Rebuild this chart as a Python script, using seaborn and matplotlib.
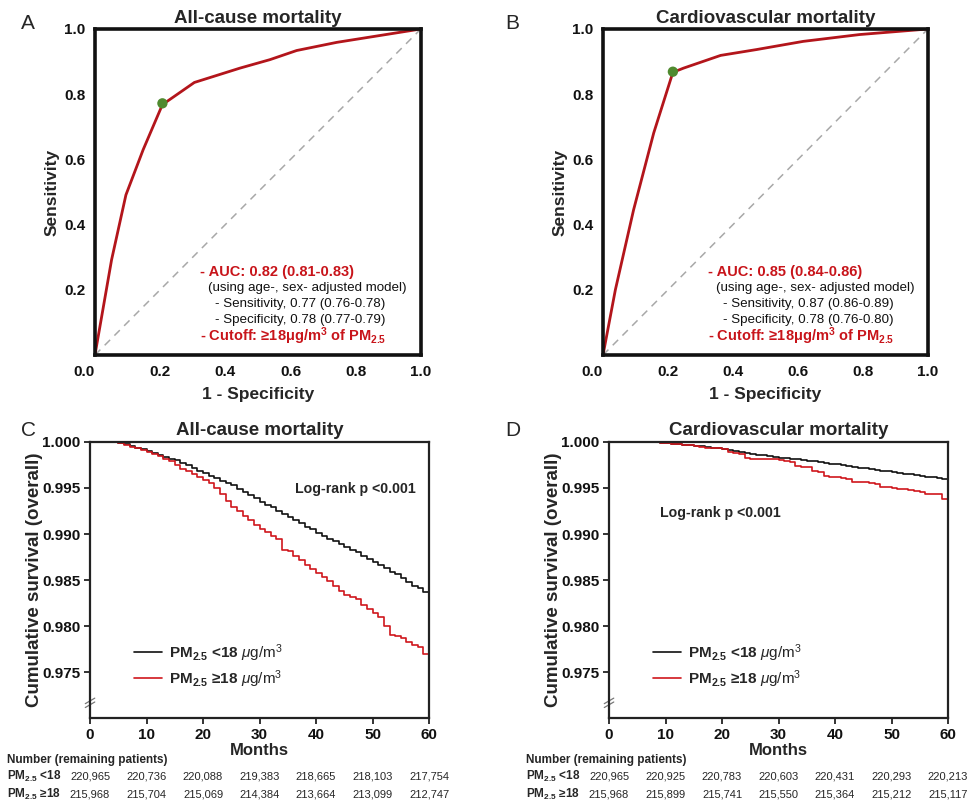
"""
PM2.5 cutoff: ROC curves (A, B) and Kaplan-Meier survival (C, D)
"""
import numpy as np
import pandas as pd
import matplotlib
matplotlib.use("Agg")
import matplotlib.pyplot as plt
import matplotlib.transforms as mtransforms
import seaborn as sns

sns.set_theme(style="white")
plt.rcParams["font.family"] = ["Liberation Sans", "DejaVu Sans"]
plt.rcParams["mathtext.fontset"] = "custom"
plt.rcParams["mathtext.rm"] = "Liberation Sans"
plt.rcParams["mathtext.it"] = "Liberation Sans:italic"
plt.rcParams["mathtext.bf"] = "Liberation Sans:bold"

# ── Data ─────────────────────────────────────────────────────────────────────
roc_all_fpr = [0.0, 0.051, 0.095, 0.148, 0.207, 0.305, 0.445, 0.537, 0.619, 0.742, 1.0]
roc_all_tpr = [0.0, 0.292, 0.491, 0.630, 0.768, 0.836, 0.880, 0.906, 0.934, 0.959, 1.0]
cut_all = (0.207, 0.772)

roc_cv_fpr = [0.0, 0.038, 0.094, 0.156, 0.215, 0.248, 0.362, 0.473, 0.616, 0.790, 1.0]
roc_cv_tpr = [0.0, 0.200, 0.445, 0.681, 0.867, 0.880, 0.919, 0.937, 0.962, 0.983, 1.0]
cut_cv = (0.215, 0.869)

months = list(range(61))
km_all_low = [1.0, 1.0, 1.0, 1.0, 0.99995, 0.9999, 0.9998, 0.9996, 0.9994, 0.9992,
              0.9990, 0.9988, 0.9986, 0.9984, 0.9982, 0.9980, 0.9977, 0.9975, 0.9972, 0.9969,
              0.9966, 0.9963, 0.9961, 0.9958, 0.9955, 0.9953, 0.9949, 0.9946, 0.9942, 0.9939,
              0.9935, 0.9932, 0.9929, 0.9925, 0.9922, 0.9919, 0.9915, 0.9912, 0.9908, 0.9905,
              0.9901, 0.9898, 0.9895, 0.9892, 0.9889, 0.9886, 0.9883, 0.9880, 0.9876, 0.9873,
              0.9870, 0.9866, 0.9863, 0.9859, 0.9856, 0.9852, 0.9848, 0.9844, 0.9841, 0.9837,
              0.9833]
km_all_high = [1.0, 1.0, 1.0, 1.0, 0.99995, 0.9999, 0.9997, 0.9995, 0.9993, 0.9991,
               0.9989, 0.9987, 0.9985, 0.9982, 0.9979, 0.9975, 0.9971, 0.9968, 0.9965, 0.9962,
               0.9959, 0.9955, 0.9950, 0.9944, 0.9936, 0.9929, 0.9925, 0.9920, 0.9915, 0.9910,
               0.9905, 0.9902, 0.9898, 0.9895, 0.9883, 0.9881, 0.9876, 0.9872, 0.9866, 0.9862,
               0.9858, 0.9853, 0.9849, 0.9843, 0.9838, 0.9834, 0.9832, 0.9829, 0.9823, 0.9818,
               0.9814, 0.9810, 0.9800, 0.9790, 0.9789, 0.9787, 0.9783, 0.9779, 0.9777, 0.9770,
               0.9763]
km_cv_low = [1.0, 1.0, 1.0, 1.0, 1.0, 1.0, 1.0, 1.0, 0.99995, 0.9999,
             0.99985, 0.9998, 0.99975, 0.9997, 0.99965, 0.9996, 0.99955, 0.9995, 0.9994, 0.9993,
             0.9992, 0.9991, 0.9990, 0.9989, 0.9988, 0.9987, 0.9986, 0.99855, 0.9985, 0.9984,
             0.9983, 0.99825, 0.9982, 0.9981, 0.9980, 0.99795, 0.9979, 0.9978, 0.9977, 0.99765,
             0.9976, 0.9975, 0.9974, 0.9973, 0.9972, 0.99715, 0.9971, 0.9970, 0.9969, 0.9968,
             0.9967, 0.9966, 0.99655, 0.9965, 0.9964, 0.9963, 0.9962, 0.99615, 0.9961, 0.9960,
             0.9959]
km_cv_high = [1.0, 1.0, 1.0, 1.0, 1.0, 1.0, 1.0, 1.0, 0.99995, 0.9999,
              0.9999, 0.9998, 0.9998, 0.9997, 0.9997, 0.9996, 0.9995, 0.9994, 0.9994, 0.9993,
              0.9992, 0.9989, 0.9988, 0.9987, 0.9983, 0.9982, 0.9982, 0.9982, 0.9981, 0.9981,
              0.9980, 0.9979, 0.9978, 0.9974, 0.9973, 0.9973, 0.9969, 0.9967, 0.9963, 0.9962,
              0.9962, 0.9961, 0.9960, 0.9957, 0.9957, 0.9956, 0.9955, 0.9954, 0.9951, 0.9951,
              0.9950, 0.9949, 0.9949, 0.9948, 0.9947, 0.9946, 0.9944, 0.9944, 0.9943, 0.9938,
              0.9937]

risk_months = [0, 10, 20, 30, 40, 50, 60]
risk_all_low = ["220,965", "220,736", "220,088", "219,383", "218,665", "218,103", "217,754"]
risk_all_high = ["215,968", "215,704", "215,069", "214,384", "213,664", "213,099", "212,747"]
risk_cv_low = ["220,965", "220,925", "220,783", "220,603", "220,431", "220,293", "220,213"]
risk_cv_high = ["215,968", "215,899", "215,741", "215,550", "215,364", "215,212", "215,117"]

auc_lines_all = ["- AUC: 0.82 (0.81-0.83)", "(using age-, sex- adjusted model)",
                 "- Sensitivity, 0.77 (0.76-0.78)", "- Specificity, 0.78 (0.77-0.79)"]
auc_lines_cv = ["- AUC: 0.85 (0.84-0.86)", "(using age-, sex- adjusted model)",
                "- Sensitivity, 0.87 (0.86-0.89)", "- Specificity, 0.78 (0.76-0.80)"]

ROC_RED = "#B3151B"
KM_RED = "#D0161C"
GREEN = "#4F8A2F"

fig = plt.figure(figsize=(9.67, 8.01), dpi=100)


# ── ROC panels ───────────────────────────────────────────────────────────────
def roc_panel(rect, fpr, tpr, cut, lines, title, letter, letter_x):
    ax = fig.add_axes(rect)
    ax.plot([0, 1], [0, 1], color="#A8A8A8", lw=1.1, ls=(0, (5, 4)))
    sns.lineplot(x=fpr, y=tpr, sort=False, estimator=None, color=ROC_RED, lw=2.0, ax=ax)
    sns.scatterplot(x=[cut[0]], y=[cut[1]], color=GREEN, s=55, edgecolor="none", zorder=5, ax=ax)
    ax.set_xlim(0, 1)
    ax.set_ylim(0, 1)
    ax.set_xticks([0, 0.2, 0.4, 0.6, 0.8, 1.0])
    ax.set_xticklabels(["0.0", "0.2", "0.4", "0.6", "0.8", "1.0"])
    ax.set_yticks([0.2, 0.4, 0.6, 0.8, 1.0])
    ax.set_yticklabels(["0.2", "0.4", "0.6", "0.8", "1.0"])
    ax.tick_params(length=0, labelsize=11, pad=7, colors="#111111")
    for lbl in ax.get_xticklabels() + ax.get_yticklabels():
        lbl.set_fontweight("bold")
    ax.get_xticklabels()[0].set_ha("right")
    for s in ax.spines.values():
        s.set_linewidth(2.6)
        s.set_color("#111111")
    ax.set_xlabel("1 - Specificity", fontsize=12.5, fontweight="bold", labelpad=6)
    ax.set_ylabel("Sensitivity", fontsize=12.5, fontweight="bold", labelpad=3)
    ax.set_title(title, fontsize=13.5, fontweight="bold", pad=4)
    fig.text(letter_x, 0.983, letter, fontsize=15, va="top")
    ax.text(0.322, 0.255, lines[0], color="#C8141A", fontsize=10.5, fontweight="bold", va="center")
    ax.text(0.347, 0.206, lines[1], color="#111111", fontsize=9.6, va="center")
    ax.text(0.368, 0.156, lines[2], color="#111111", fontsize=9.6, va="center")
    ax.text(0.368, 0.107, lines[3], color="#111111", fontsize=9.6, va="center")
    ax.text(0.322, 0.058, r"- Cutoff: ≥18μg/m$^\mathbf{3}$ of PM$_\mathbf{2.5}$",
            color="#C8141A", fontsize=10.5, fontweight="bold", va="center")
    return ax


roc_panel([0.0982, 0.5568, 0.337, 0.407], roc_all_fpr, roc_all_tpr, cut_all,
          auc_lines_all, "All-cause mortality", "A", 0.022)
roc_panel([0.6236, 0.5568, 0.336, 0.407], roc_cv_fpr, roc_cv_tpr, cut_cv,
          auc_lines_cv, "Cardiovascular mortality", "B", 0.522)


# ── Kaplan-Meier panels ──────────────────────────────────────────────────────
def km_panel(rect, low, high, title, letter, letter_x, p_xy, risk_low, risk_high, table_x):
    ax = fig.add_axes(rect)
    df = pd.DataFrame({"month": months + months,
                       "surv": low + high,
                       "group": ["low"] * len(months) + ["high"] * len(months)})
    lab_low = r"PM$_\mathbf{2.5}$ <18 $\mu\mathrm{g/m^3}$"
    lab_high = r"PM$_\mathbf{2.5}$ ≥18 $\mu\mathrm{g/m^3}$"
    sns.lineplot(data=df[df.group == "low"], x="month", y="surv", color="#111111",
                 lw=1.2, drawstyle="steps-post", estimator=None, label=lab_low, ax=ax)
    sns.lineplot(data=df[df.group == "high"], x="month", y="surv", color=KM_RED,
                 lw=1.2, drawstyle="steps-post", estimator=None, label=lab_high, ax=ax)
    ax.set_xlim(0, 60)
    ax.set_ylim(0.970, 1.0)
    ax.set_xticks([0, 10, 20, 30, 40, 50, 60])
    ax.set_yticks([0.975, 0.980, 0.985, 0.990, 0.995, 1.000])
    ax.set_yticklabels(["0.975", "0.980", "0.985", "0.990", "0.995", "1.000"])
    ax.tick_params(axis="both", direction="out", length=4, width=1.2, labelsize=11,
                   pad=3, colors="#111111", left=True, bottom=True)
    for lbl in ax.get_xticklabels() + ax.get_yticklabels():
        lbl.set_fontweight("bold")
    for s in ax.spines.values():
        s.set_linewidth(1.6)
        s.set_color("#222222")
    ax.set_xlabel("Months", fontsize=12, fontweight="bold", labelpad=1)
    ax.set_ylabel("Cumulative survival (overall)", fontsize=13.5, fontweight="bold", labelpad=-1)
    ax.set_title(title, fontsize=13.5, fontweight="bold", pad=5)
    fig.text(letter_x, 0.475, letter, fontsize=15, va="top")
    ax.text(p_xy[0], p_xy[1], "Log-rank p <0.001", fontsize=10.2, fontweight="bold",
            transform=ax.transAxes, va="center")
    ax.legend(loc="upper left", bbox_to_anchor=(0.09, 0.325), frameon=False,
              prop={"size": 11, "weight": "bold"}, handlelength=1.8, handletextpad=0.5,
              labelspacing=0.3)
    # axis break marks
    for dy in (0.0, 0.014):
        ax.plot([-0.014, 0.014], [0.038 + dy, 0.058 + dy], color="#777777", lw=0.9,
                transform=ax.transAxes, clip_on=False)
    # number at risk
    trans = mtransforms.blended_transform_factory(ax.transData, fig.transFigure)
    fig.text(table_x, 0.0512, "Number (remaining patients)", fontsize=8.5,
             fontweight="bold", va="center")
    fig.text(table_x, 0.0312, r"PM$_\mathbf{2.5}$ <18", fontsize=8.5, fontweight="bold", va="center")
    fig.text(table_x, 0.0087, r"PM$_\mathbf{2.5}$ ≥18", fontsize=8.5, fontweight="bold", va="center")
    for m, a, b in zip(risk_months, risk_low, risk_high):
        ax.text(m, 0.0312, a, fontsize=8, ha="center", va="center", transform=trans, clip_on=False)
        ax.text(m, 0.0087, b, fontsize=8, ha="center", va="center", transform=trans, clip_on=False)
    return ax


km_panel([0.0931, 0.1036, 0.3506, 0.3446], km_all_low, km_all_high, "All-cause mortality",
         "C", 0.022, (0.605, 0.83), risk_all_low, risk_all_high, 0.007)
km_panel([0.6298, 0.1036, 0.3506, 0.3446], km_cv_low, km_cv_high, "Cardiovascular mortality",
         "D", 0.522, (0.15, 0.743), risk_cv_low, risk_cv_high, 0.544)

fig.savefig("out.png", dpi=100)
